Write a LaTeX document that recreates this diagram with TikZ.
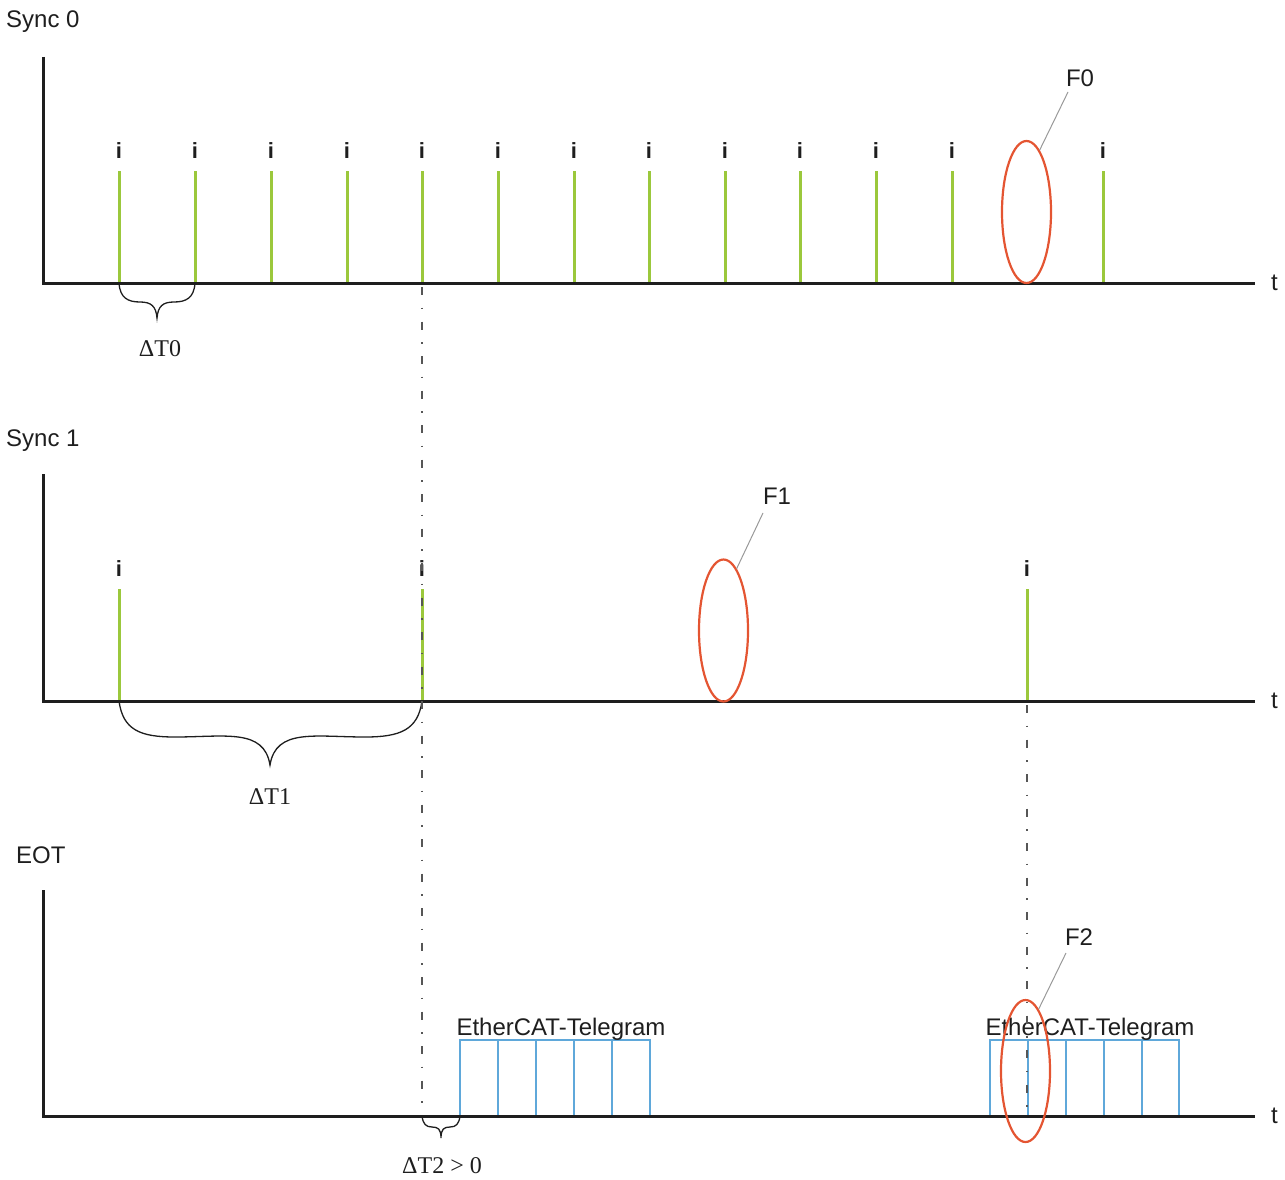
\documentclass[tikz,border=0pt]{standalone}
\usepackage{fontspec}
\setmainfont{Liberation Sans}
\newfontfamily\greekserif{Liberation Serif}
\usetikzlibrary{shapes.geometric}
\definecolor{pulsegreen}{RGB}{155,200,60}
\definecolor{errred}{RGB}{228,85,50}
\definecolor{telblue}{RGB}{95,168,218}
\definecolor{axisblack}{RGB}{30,30,30}
\begin{document}
\begin{tikzpicture}[x=1pt,y=-1pt,
  axis/.style={line width=3pt, axisblack},
  pulse/.style={line width=3pt, pulsegreen},
  ilabel/.style={font=\bfseries\fontsize{22}{22}\selectfont, anchor=base, inner sep=0pt, text=axisblack},
  title/.style={font=\fontsize{24}{27}\selectfont, anchor=base west, inner sep=0pt, text=axisblack},
  tlabel/.style={font=\fontsize{24}{27}\selectfont, anchor=base west, inner sep=0pt, text=axisblack},
  errell/.style={ellipse, draw=errred, line width=2.2pt, inner sep=0pt, minimum width=49pt, minimum height=142pt},
  errlab/.style={font=\fontsize{24}{27}\selectfont, inner sep=0pt, text=axisblack},
  leader/.style={draw=gray!80, line width=1pt},
  dashdot/.style={draw=axisblack!75, line width=1.5pt, dash pattern=on 8pt off 12.5pt on 1.5pt off 12.5pt},
  bracestyle/.style={draw=axisblack, line width=1.3pt},
  deltalab/.style={font=\greekserif\fontsize{24}{26}\selectfont, inner sep=0pt, text=axisblack},
  telbox/.style={draw=telblue, line width=2.2pt},
  tellab/.style={font=\fontsize{24}{27}\selectfont, inner sep=0pt, text=axisblack}]
\useasboundingbox (0,0) rectangle (1285,1180);

% ---------- Sync 0 ----------
\node[title] (s0) at (6,28) {Sync 0};
\foreach \x [count=\k] in {119,195,271,347,422,498,574,649,725,800,876,952,1103}{
  \draw[pulse] (\x,171) -- (\x,283);
  \node[ilabel] (ia\k) at (\x,158) {i};
}
\coordinate (a0o) at (43,283);
\draw[axis] (43,57) -- (a0o) -- (1255,283);
\node[tlabel] (t0) at (1271,290) {t};
\node[errell] (f0) at (1026.5,212) {};
\node[errlab] (f0lab) at (1080,78) {F0};
\draw[leader] (f0.78) -- (1068,92);

% brace dT0
\coordinate (b0l) at (119,283);
\coordinate (b0r) at (195,283);
\coordinate (b0t) at (157,318);
\draw[bracestyle] (b0l) .. controls (120,298) and (128,302) .. (140,302)
   .. controls (151,302) and (156,306) .. (b0t)
   .. controls (158,306) and (163,302) .. (174,302)
   .. controls (186,302) and (194,298) .. (b0r);
\node[deltalab] (d0) at (160,349) {ΔT0};

% ---------- Sync 1 ----------
\node[title] (s1) at (6,446) {Sync 1};
\foreach \x [count=\k] in {119,422,1027}{
  \draw[pulse] (\x,589) -- (\x,701);
  \node[ilabel] (ib\k) at (\x,576) {i};
}
\draw[axis] (43,474) -- (43,701) -- (1255,701);
\node[tlabel] (t1) at (1271,708) {t};
\node[errell] (f1) at (723.5,630.5) {};
\node[errlab] (f1lab) at (777,496) {F1};
\draw[leader] (f1.78) -- (763,513);

% brace dT1
\coordinate (b1l) at (119,701);
\coordinate (b1r) at (422,701);
\coordinate (b1t) at (270,765);
\draw[bracestyle] (b1l) .. controls (123,730) and (140,737) .. (175,737)
   .. controls (225,737) and (264,728) .. (b1t)
   .. controls (276,728) and (315,737) .. (365,737)
   .. controls (400,737) and (418,730) .. (b1r);
\node[deltalab] (d1) at (270,797) {ΔT1};

% ---------- EOT ----------
\node[title] (s2) at (16,863) {EOT};
% telegram 1
\draw[telbox] (460,1116) -- (460,1040) -- (650,1040) -- (650,1116);
\foreach \x in {498,536,574,612}{\draw[telbox] (\x,1040) -- (\x,1116);}
\node[tellab] (tg1) at (561,1029) {EtherCAT-Telegram};
% telegram 2
\draw[telbox] (990,1116) -- (990,1040) -- (1179,1040) -- (1179,1116);
\foreach \x in {1028,1066,1104,1142}{\draw[telbox] (\x,1040) -- (\x,1116);}
\node[tellab] (tg2) at (1090,1029) {EtherCAT-Telegram};

\draw[axis] (43,890) -- (43,1116) -- (1255,1116);
\node[tlabel] (t2) at (1271,1123) {t};

% dash-dot guides
\draw[dashdot] (422,287) -- (422,1112);
\draw[dashdot] (1027,705) -- (1027,1112);

\node[errell] (f2) at (1025.5,1071) {};
\node[errlab] (f2lab) at (1079,937) {F2};
\draw[leader] (f2.78) -- (1066,953);

% brace dT2
\coordinate (b2l) at (422,1116);
\coordinate (b2r) at (460,1116);
\coordinate (b2t) at (441,1138);
\draw[bracestyle] (b2l) .. controls (423,1124) and (426,1127) .. (432,1127)
   .. controls (438,1127) and (441,1129) .. (b2t)
   .. controls (441,1129) and (444,1127) .. (450,1127)
   .. controls (456,1127) and (459,1124) .. (b2r);
\node[deltalab] (d2) at (442,1166) {ΔT2 > 0};
\end{tikzpicture}
\end{document}
